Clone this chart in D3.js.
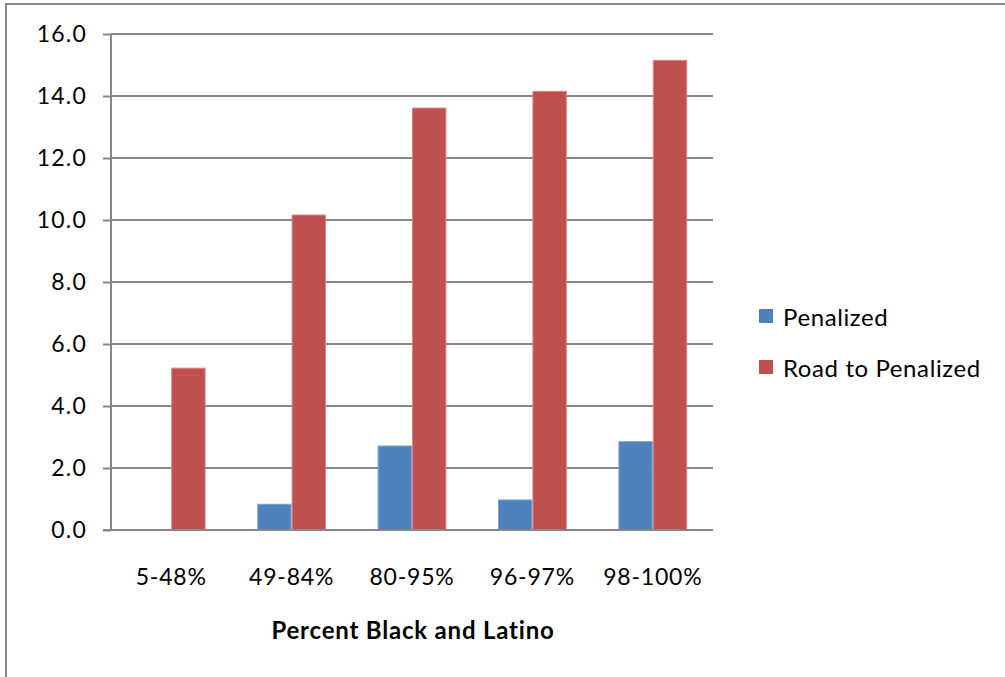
<!DOCTYPE html>
<html><head><meta charset="utf-8">
<script src="https://cdn.jsdelivr.net/npm/d3@7"></script>
<style>body{margin:0;background:#fff;} svg{display:block;}</style>
</head><body>
<svg id="c" width="1005" height="677"></svg>
<script>
const categories = ["5-48%", "49-84%", "80-95%", "96-97%", "98-100%"];
const seriesNames = ["Penalized", "Road to Penalized"];
const penalized = [0, 0.83, 2.71, 0.97, 2.85];
const roadToPenalized = [5.22, 10.16, 13.61, 14.15, 15.15];
const yTicks = [0, 2, 4, 6, 8, 10, 12, 14, 16];
const colors = ["#4F81BD", "#C0504D"];
const edgeColors = ["#7FA3D0", "#D98583"];
const xTitle = "Percent Black and Latino";

const svg = d3.select("#c");
const font = "Lato, 'Open Sans', sans-serif";
const gray = "#878787";

// outer frame (partial)
svg.append("line").attr("x1",6).attr("x2",6).attr("y1",3).attr("y2",677).attr("stroke",gray).attr("stroke-width",2);
svg.append("line").attr("x1",5).attr("x2",1005).attr("y1",4).attr("y2",4).attr("stroke",gray).attr("stroke-width",2);

const pLeft = 111, pRight = 713, pTop = 34, pBottom = 530;
const x0 = d3.scaleBand().domain(categories).range([pLeft, pRight]).paddingInner(0).paddingOuter(0);
const y = d3.scaleLinear().domain([0, 16]).range([pBottom, pTop]);

// gridlines
svg.append("g").selectAll("line").data(yTicks.filter(d=>d>0)).join("line")
  .attr("x1", pLeft).attr("x2", pRight)
  .attr("y1", d=>y(d)).attr("y2", d=>y(d))
  .attr("stroke", gray).attr("stroke-width", 2);

// bars
const barW = x0.bandwidth() / 3.5;
const data = [penalized, roadToPenalized];
data.forEach((vals, si) => {
  svg.append("g").selectAll("rect").data(vals.map((v,i)=>({v, c:categories[i]}))).join("rect")
    .attr("x", d => x0(d.c) + x0.bandwidth()/2 - barW + si*barW + 0.5)
    .attr("width", barW - 1)
    .attr("y", d => y(d.v))
    .attr("height", d => Math.max(0, y(0) - y(d.v)))
    .attr("fill", colors[si])
    .attr("stroke", d => d.v > 0 ? edgeColors[si] : "none")
    .attr("stroke-width", 1);
});

// y axis
const yAxis = d3.axisLeft(y).tickValues(yTicks).tickFormat(d3.format(".1f")).tickSize(8).tickPadding(16);
const gy = svg.append("g").attr("transform", `translate(${pLeft},0)`).call(yAxis);
gy.select(".domain").attr("stroke", gray).attr("stroke-width", 2).attr("d", `M0,${pTop}V${pBottom+1}`);
gy.selectAll(".tick line").attr("stroke", gray).attr("stroke-width", 2);
gy.selectAll(".tick text").attr("font-family", font).attr("font-size", 23).attr("letter-spacing", 1.2).attr("fill", "#000");

// x baseline
svg.append("line").attr("x1", pLeft-8).attr("x2", pRight).attr("y1", pBottom).attr("y2", pBottom)
  .attr("stroke", gray).attr("stroke-width", 2);

// x category labels
const xAxis = d3.axisBottom(x0).tickSize(0).tickPadding(0);
const gx = svg.append("g").attr("transform", `translate(0,585)`).call(xAxis);
gx.select(".domain").remove();
gx.selectAll(".tick text").attr("font-family", font).attr("font-size", 23).attr("letter-spacing", 0.8)
  .attr("fill", "#000").attr("dy", "0");

// x title
svg.append("text").attr("x", (pLeft + pRight) / 2 + 1).attr("y", 639).attr("text-anchor", "middle")
  .attr("font-family", font).attr("font-size", 24).attr("letter-spacing", 0.8).attr("font-weight", "bold").attr("fill", "#000")
  .text(xTitle);

// legend
const lg = svg.append("g");
seriesNames.forEach((n, i) => {
  const yy = 309 + i*51;
  lg.append("rect").attr("x", 759).attr("y", yy).attr("width", 14).attr("height", 14).attr("fill", colors[i]);
  lg.append("text").attr("x", 783).attr("y", yy + 17).attr("font-family", font).attr("font-size", 24)
    .attr("letter-spacing", 0.6).attr("fill", "#000").text(n);
});
</script>
</body></html>
